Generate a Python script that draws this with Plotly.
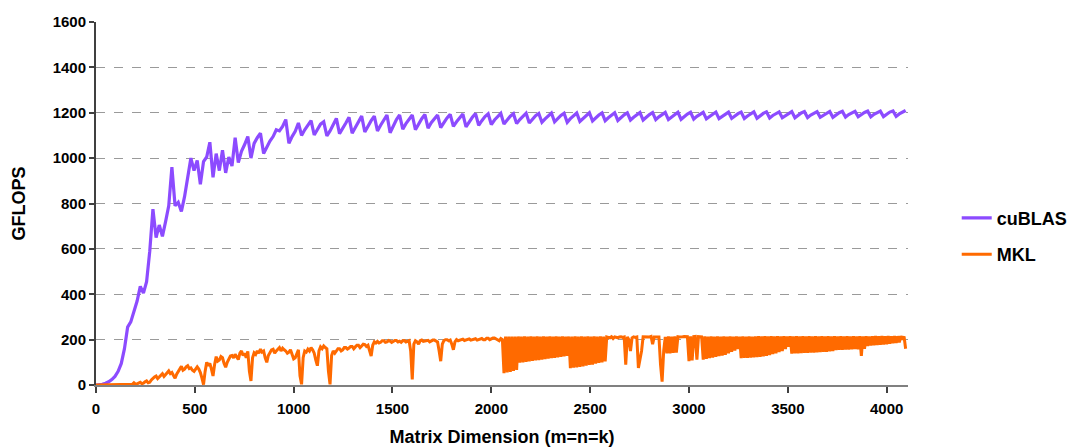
import plotly.graph_objects as go

CUBLAS_STEP = 16
MKL_STEP = 8

cublas_gflops = [
    0, 1, 3, 8, 14, 24, 38, 60, 95, 160, 255, 278, 320, 370, 435, 405,
    455, 590, 775, 650, 705, 655, 720, 790, 960, 790, 805, 765, 830, 920, 1000, 945,
    990, 885, 985, 1005, 1070, 915, 1020, 945, 1035, 935, 1005, 965, 1090, 980, 1030, 1060,
    1095, 1000, 1065, 1090, 1110, 1020, 1050, 1075, 1095, 1125, 1120, 1140, 1170, 1065, 1095, 1118,
    1155, 1100, 1125, 1145, 1165, 1102, 1128, 1150, 1160, 1098, 1120, 1148, 1175, 1108, 1135, 1155,
    1180, 1110, 1135, 1160, 1185, 1115, 1142, 1165, 1185, 1120, 1145, 1168, 1190, 1112, 1142, 1170,
    1190, 1128, 1152, 1172, 1190, 1125, 1152, 1174, 1192, 1132, 1156, 1176, 1190, 1135, 1158, 1177,
    1193, 1140, 1160, 1179, 1194, 1138, 1162, 1180, 1196, 1145, 1165, 1183, 1195, 1148, 1168, 1184,
    1197, 1150, 1168, 1185, 1196, 1152, 1170, 1186, 1198, 1155, 1172, 1187, 1197, 1158, 1173, 1187,
    1199, 1160, 1175, 1188, 1198, 1158, 1174, 1188, 1199, 1162, 1176, 1189, 1200, 1164, 1178, 1190,
    1199, 1165, 1178, 1190, 1200, 1166, 1180, 1191, 1200, 1168, 1180, 1192, 1201, 1168, 1181, 1192,
    1201, 1170, 1182, 1193, 1201, 1170, 1182, 1193, 1202, 1171, 1183, 1194, 1202, 1172, 1184, 1195,
    1202, 1173, 1184, 1195, 1203, 1174, 1185, 1196, 1203, 1175, 1186, 1196, 1203, 1175, 1186, 1197,
    1204, 1176, 1187, 1197, 1204, 1177, 1188, 1198, 1204, 1178, 1188, 1198, 1205, 1178, 1189, 1199,
    1205, 1179, 1190, 1199, 1205, 1180, 1190, 1200, 1206, 1180, 1191, 1200, 1206, 1181, 1192, 1201,
    1206, 1182, 1192, 1201, 1207, 1182, 1193, 1202, 1207, 1183, 1194, 1203, 1208, 1184, 1195, 1204,
    1210,
]

mkl_gflops = [
    0, 0, 0, 0, 0, 0, 0, 0, 0, 0, 0, 0, 0, 0, 0, 0,
    0, 0, 0, 0, 1, 0, 2, 3, 10, 4, 5, 8, 12, 6, 8, 14,
    18, 10, 12, 22, 30, 36, 40, 28, 35, 45, 50, 38, 45, 55, 62, 50,
    55, 42, 30, 48, 60, 75, 82, 65, 70, 80, 85, 72, 75, 65, 60, 70,
    80, 70, 55, 30, 2, 60, 100, 85, 95, 70, 40, 90, 125, 105, 110, 125,
    120, 95, 78, 100, 115, 128, 130, 120, 135, 125, 112, 140, 150, 130, 140, 120,
    148, 60, 18, 120, 142, 135, 150, 140, 158, 145, 150, 120, 100, 130, 140, 155,
    158, 140, 150, 160, 165, 150, 162, 155, 150, 140, 145, 155, 130, 115, 120, 140,
    155, 40, 3, 120, 150, 145, 158, 150, 165, 155, 140, 110, 85, 150, 168, 160,
    172, 165, 160, 60, 3, 130, 150, 140, 152, 160, 160, 150, 155, 165, 165, 158,
    163, 170, 170, 160, 168, 175, 175, 165, 172, 180, 178, 170, 175, 150, 128, 175,
    190, 185, 192, 185, 188, 195, 195, 188, 190, 196, 194, 188, 192, 196, 196, 190,
    193, 188, 195, 196, 190, 192, 196, 150, 25, 180, 195, 190, 180, 195, 198, 192,
    194, 197, 197, 190, 195, 198, 198, 192, 190, 150, 105, 180, 196, 200, 200, 195,
    198, 180, 155, 190, 200, 195, 198, 202, 202, 196, 199, 203, 203, 198, 200, 204,
    204, 198, 201, 205, 205, 200, 200, 206, 206, 200, 204, 207, 207, 203, 200, 195,
    205, 200, 52, 214, 55, 213, 58, 214, 62, 213, 66, 214, 98, 213, 100, 214,
    102, 213, 104, 214, 106, 213, 108, 214, 110, 213, 112, 214, 114, 213, 116, 214,
    118, 213, 120, 214, 122, 213, 124, 214, 126, 213, 128, 214, 74, 213, 76, 214,
    78, 213, 80, 214, 82, 213, 85, 214, 88, 213, 90, 214, 94, 213, 97, 214,
    100, 213, 104, 212, 210, 208, 213, 205, 212, 210, 208, 212, 213, 210, 212, 90,
    212, 200, 150, 208, 212, 210, 212, 75, 110, 150, 213, 212, 211, 213, 212, 214,
    180, 212, 213, 214, 212, 90, 15, 150, 212, 140, 214, 140, 213, 142, 214, 143,
    213, 212, 214, 213, 214, 212, 213, 105, 214, 108, 213, 214, 112, 213, 214, 212,
    112, 214, 115, 213, 118, 214, 121, 213, 124, 214, 127, 213, 130, 214, 133, 213,
    140, 214, 146, 213, 152, 214, 158, 213, 118, 214, 119, 213, 120, 214, 121, 213,
    122, 214, 123, 215, 124, 214, 126, 215, 128, 214, 132, 215, 136, 214, 140, 215,
    145, 214, 150, 215, 158, 214, 168, 215, 138, 214, 139, 215, 140, 214, 141, 215,
    142, 214, 142, 215, 143, 214, 143, 215, 144, 214, 145, 215, 146, 214, 146, 215,
    148, 214, 150, 215, 154, 214, 155, 215, 155, 214, 156, 215, 156, 214, 157, 215,
    158, 214, 157, 215, 128, 214, 160, 215, 172, 214, 174, 215, 175, 216, 176, 215,
    178, 216, 179, 215, 180, 216, 182, 215, 184, 216, 185, 215, 188, 216, 200, 214,
    160,
]

cublas_dim = [i * CUBLAS_STEP for i in range(len(cublas_gflops))]
mkl_dim = [i * MKL_STEP for i in range(len(mkl_gflops))]

x_ticks = [0, 500, 1000, 1500, 2000, 2500, 3000, 3500, 4000]
y_ticks = [0, 200, 400, 600, 800, 1000, 1200, 1400, 1600]

PURPLE = "#8C4BFF"
ORANGE = "#FF6A00"
FONT = "Liberation Sans, Arial, sans-serif"

fig = go.Figure()
fig.add_trace(go.Scatter(x=cublas_dim, y=cublas_gflops, mode="lines", name="cuBLAS",
                         legendgroup="a", line=dict(color=PURPLE, width=3.2)))
fig.add_trace(go.Scatter(x=mkl_dim, y=mkl_gflops, mode="lines", name="MKL",
                         legendgroup="b", line=dict(color=ORANGE, width=3)))

axis_font = dict(family=FONT, size=15, color="#000000", weight=700)
title_font = dict(family=FONT, size=18, color="#000000", weight=700)

fig.update_layout(
    width=1074, height=447,
    margin=dict(l=96, r=166, t=22, b=62, autoexpand=False),
    paper_bgcolor="white", plot_bgcolor="white",
    font=dict(family=FONT, color="#000000"),
    legend=dict(x=1.06, y=0.41, xanchor="left", yanchor="middle",
                font=dict(family=FONT, size=18, color="#000000", weight=700),
                tracegroupgap=10, bgcolor="rgba(0,0,0,0)"),
    xaxis=dict(range=[0, 4108], tickvals=x_ticks, ticktext=[str(v) for v in x_ticks],
               showgrid=False, zeroline=False, showline=True, linecolor="#808080", linewidth=2,
               ticks="outside", ticklen=6, tickwidth=1.5, tickcolor="#404040",
               tickfont=axis_font, ticklabelstandoff=3, automargin=False,
               title=dict(text="Matrix Dimension (m=n=k)", font=title_font, standoff=14)),
    yaxis=dict(range=[0, 1600], tickvals=y_ticks, ticktext=[str(v) for v in y_ticks],
               showgrid=True, gridcolor="#9a9a9a", griddash="dash", gridwidth=1,
               zeroline=False, showline=True, linecolor="#404040", linewidth=2,
               ticks="outside", ticklen=5, tickwidth=1.5, tickcolor="#404040",
               tickfont=axis_font, automargin=False,
               title=dict(text="GFLOPS", font=title_font, standoff=22)),
)

fig.write_html("out.html")
